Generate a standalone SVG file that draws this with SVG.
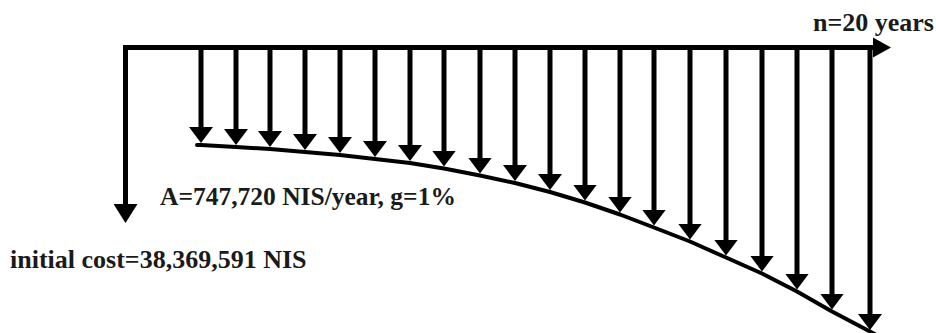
<svg xmlns="http://www.w3.org/2000/svg" width="936" height="333" viewBox="0 0 936 333">
<style>
.lbl{font-family:"Liberation Serif","Times New Roman",serif;font-weight:bold;fill:#1a1a1a}
.shaft{stroke:#000;stroke-width:5;fill:none;marker-end:url(#ah)}
.axis{stroke:#000;stroke-width:5;fill:none}
.curve{stroke:#000;stroke-width:4;fill:none;stroke-linejoin:round;stroke-linecap:round}
</style>
<defs>
<marker id="ah" viewBox="0 0 16 24" markerWidth="16" markerHeight="24" refX="8" refY="12" orient="auto" markerUnits="userSpaceOnUse"><path d="M0,0 L16,12 L0,24 z" fill="#000"/></marker>
<marker id="ah2" viewBox="0 0 19 24" markerWidth="19" markerHeight="24" refX="9" refY="12" orient="auto" markerUnits="userSpaceOnUse"><path d="M0,0 L19,12 L0,24 z" fill="#000"/></marker>
</defs>
<rect width="936" height="333" fill="#fff"/>
<g id="connectors">
<path class="axis" d="M125.5,212 V47.5 H876" stroke-linejoin="miter"/>
<line x1="125.5" y1="200" x2="125.5" y2="213" stroke="#000" stroke-width="5" marker-end="url(#ah2)"/>
<polygon points="873,37.5 891,47.5 873,57.5" fill="#000"/>
<polyline class="curve" points="197,145 201,145 236,147 270,149 305,152 340,155 375,159 410,163 444,168.5 480,175.5 515,183 550,192 585,202.5 620,214.5 654,227.5 690,241.5 726,257.5 762,273.5 797,291.5 832,311.5 870,331.5 882,338"/>
<g id="payments">
<line class="shaft" x1="201" y1="47.5" x2="201" y2="135"/>
<line class="shaft" x1="236" y1="47.5" x2="236" y2="137"/>
<line class="shaft" x1="270" y1="47.5" x2="270" y2="139"/>
<line class="shaft" x1="305" y1="47.5" x2="305" y2="142"/>
<line class="shaft" x1="340" y1="47.5" x2="340" y2="145"/>
<line class="shaft" x1="375" y1="47.5" x2="375" y2="149"/>
<line class="shaft" x1="410" y1="47.5" x2="410" y2="153"/>
<line class="shaft" x1="444" y1="47.5" x2="444" y2="158.5"/>
<line class="shaft" x1="480" y1="47.5" x2="480" y2="165.5"/>
<line class="shaft" x1="515" y1="47.5" x2="515" y2="173"/>
<line class="shaft" x1="550" y1="47.5" x2="550" y2="182"/>
<line class="shaft" x1="585" y1="47.5" x2="585" y2="192.5"/>
<line class="shaft" x1="620" y1="47.5" x2="620" y2="204.5"/>
<line class="shaft" x1="654" y1="47.5" x2="654" y2="217.5"/>
<line class="shaft" x1="690" y1="47.5" x2="690" y2="231.5"/>
<line class="shaft" x1="726" y1="47.5" x2="726" y2="247.5"/>
<line class="shaft" x1="762" y1="47.5" x2="762" y2="263.5"/>
<line class="shaft" x1="797" y1="47.5" x2="797" y2="281.5"/>
<line class="shaft" x1="832" y1="47.5" x2="832" y2="301.5"/>
<line class="shaft" x1="870" y1="47.5" x2="870" y2="322"/>
</g>
</g>
<g id="label-n"><text class="lbl" x="813" y="31" font-size="26">n=20 years</text></g>
<g id="label-A"><text class="lbl" x="160" y="205" font-size="25.5">A=747,720 NIS/year, g=1%</text></g>
<g id="label-initial"><text class="lbl" x="10" y="268" font-size="26">initial cost=38,369,591 NIS</text></g>
</svg>
